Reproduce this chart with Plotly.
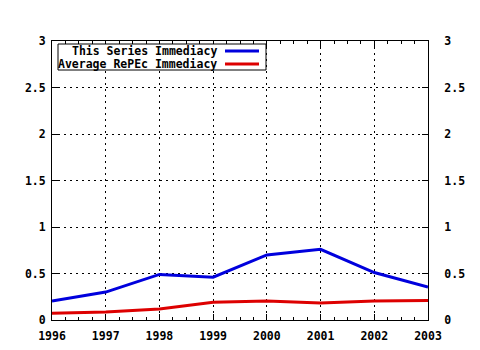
import plotly.graph_objects as go

years = [1996, 1997, 1998, 1999, 2000, 2001, 2002, 2003]
series_imm = [0.205, 0.30, 0.49, 0.46, 0.70, 0.76, 0.51, 0.355]
repec_imm = [0.072, 0.086, 0.118, 0.19, 0.204, 0.183, 0.204, 0.21]
names = ["This Series Immediacy", "Average RePEc Immediacy"]
colors = ["#0000dd", "#dd0000"]
ytick_vals = [0, 0.5, 1, 1.5, 2, 2.5, 3]
ytick_text = ["0", "0.5", "1", "1.5", "2", "2.5", "3"]

W, H = 480, 350
L, R, T, B = 52, 428, 41, 320
FONT = dict(family="DejaVu Sans Mono", size=11.5, color="black")


def px(p):
    return (p - L) / (R - L)


def py(p):
    return (B - p) / (B - T)


fig = go.Figure()
for vals, name, col in zip([series_imm, repec_imm], names, colors):
    fig.add_trace(go.Scatter(x=years, y=vals, mode="lines", name=name,
                             line=dict(color=col, width=3), showlegend=False))
# invisible trace to show right axis
fig.add_trace(go.Scatter(x=[years[0]], y=[0], yaxis="y2", mode="markers",
                         marker=dict(opacity=0), showlegend=False, hoverinfo="skip"))

shapes = [dict(type="rect", xref="paper", yref="paper",
               x0=px(58), x1=px(266), y0=py(70), y1=py(44),
               line=dict(color="black", width=1), fillcolor="white", layer="above")]
annotations = []
for i, (name, col) in enumerate(zip(names, colors)):
    yy = 51 + i * 13
    shapes.append(dict(type="line", xref="paper", yref="paper",
                       x0=px(225), x1=px(259), y0=py(yy), y1=py(yy),
                       line=dict(color=col, width=3), layer="above"))
    annotations.append(dict(xref="paper", yref="paper", x=px(219), y=py(yy),
                            xanchor="right", yanchor="middle", showarrow=False,
                            text="<b>%s</b>" % name, font=FONT))

axis_common = dict(showline=True, linecolor="black", linewidth=1,
                   ticks="inside", tickcolor="black", ticklen=6, tickwidth=1,
                   tickfont=FONT, zeroline=False, automargin=False)
GRID = dict(showgrid=True, gridcolor="black", griddash="2px,4px", gridwidth=1)

fig.update_layout(
    width=W, height=H,
    margin=dict(l=L, r=W - R, t=T, b=H - B, pad=0, autoexpand=False),
    paper_bgcolor="white", plot_bgcolor="white",
    shapes=shapes, annotations=annotations,
    xaxis=dict(range=[1996, 2003], tickvals=years,
               ticktext=["<b>%d</b>" % y for y in years],
               mirror="ticks",
               minor=dict(dtick=0.25, tick0=1996, ticks="inside", ticklen=3,
                          tickcolor="black", showgrid=False),
               ticklabelstandoff=5,
               **GRID, **axis_common),
    yaxis=dict(range=[0, 3], tickvals=ytick_vals,
               ticktext=["<b>%s</b>" % t for t in ytick_text],
               mirror=True, ticklabelstandoff=3,
               **GRID, **axis_common),
    yaxis2=dict(range=[0, 3], tickvals=ytick_vals,
                ticktext=["<b>%s</b>" % t for t in ytick_text],
                overlaying="y", side="right", showgrid=False,
                ticklabelstandoff=13,
                **axis_common),
)

fig.write_html("out.html")
